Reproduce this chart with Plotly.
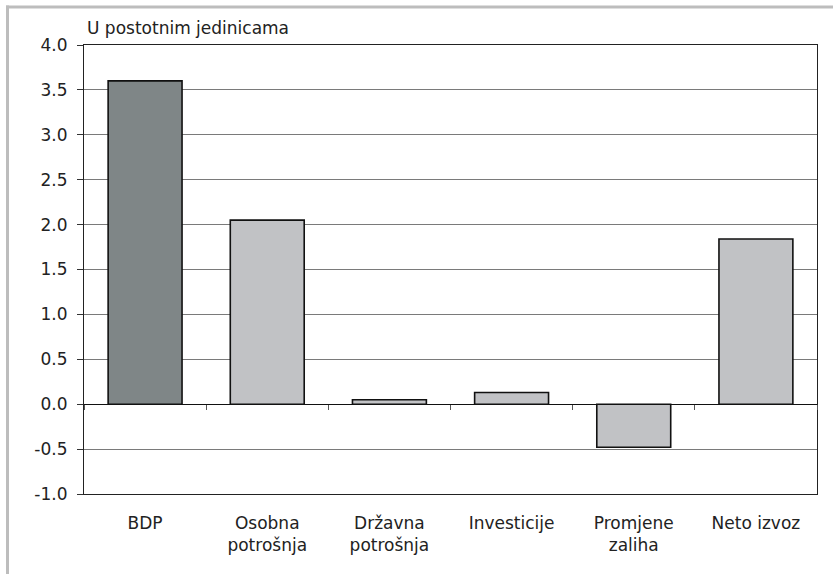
import plotly.graph_objects as go

categories = ["BDP", "Osobna<br>potrošnja", "Državna<br>potrošnja", "Investicije", "Promjene<br>zaliha", "Neto izvoz"]
values = [3.6, 2.05, 0.05, 0.13, -0.48, 1.84]
bar_colors = ["#7f8687", "#c1c2c5", "#c1c2c5", "#c1c2c5", "#c1c2c5", "#c1c2c5"]
y_ticks = [-1.0, -0.5, 0.0, 0.5, 1.0, 1.5, 2.0, 2.5, 3.0, 3.5, 4.0]
y_title = "U postotnim jedinicama"

FONT = "DejaVu Sans"
W, H = 833, 574
ML, MR, MT, MB = 84, 16, 45, 80
pw, ph = W - ML - MR, H - MT - MB

def px_x(x):
    return (x - ML) / pw

def px_y(y):
    return (H - MB - y) / ph

fig = go.Figure()
fig.add_trace(go.Bar(
    x=categories, y=values,
    marker=dict(color=bar_colors, line=dict(color="#111111", width=1.6)),
    width=0.605, hoverinfo="skip", showlegend=False,
))
# invisible trace to drive the category ticks on the zero line
fig.add_trace(go.Scatter(
    x=categories, y=values, xaxis="x2", mode="markers",
    marker=dict(opacity=0), hoverinfo="skip", showlegend=False,
))

fig.update_layout(
    width=W, height=H,
    margin=dict(l=ML, r=MR, t=MT, b=MB),
    paper_bgcolor="white", plot_bgcolor="white",
    font=dict(family=FONT, size=17, color="#222222"),
    xaxis=dict(
        type="category", categoryorder="array", categoryarray=categories,
        range=[-0.5, 5.5],
        showline=True, linecolor="#222222", linewidth=1.2, mirror=True,
        ticks="", showgrid=False, ticklabelstandoff=13,
        tickfont=dict(family=FONT, size=17, color="#222222"),
    ),
    xaxis2=dict(
        type="category", categoryorder="array", categoryarray=categories,
        overlaying="x", matches="x", anchor="free", position=0.2,
        ticks="outside", tickson="boundaries", ticklen=5, tickcolor="#555555", tickwidth=1,
        showticklabels=False, showline=False, showgrid=False,
    ),
    yaxis=dict(
        range=[-1.0, 4.0], tickvals=y_ticks,
        ticktext=[f"{v:.1f}" for v in y_ticks],
        showgrid=True, gridcolor="#7a7a7a", gridwidth=1,
        zeroline=True, zerolinecolor="#111111", zerolinewidth=1.2,
        showline=True, linecolor="#222222", linewidth=1.2, mirror=True,
        ticks="outside", ticklen=6, tickcolor="#333333",
        ticklabelstandoff=6,
        tickfont=dict(family=FONT, size=17, color="#222222"),
    ),
    shapes=[
        dict(type="line", xref="paper", yref="paper",
             x0=px_x(6), x1=px_x(W), y0=px_y(7), y1=px_y(7),
             line=dict(color="#bdbdbd", width=3), layer="above"),
        dict(type="rect", xref="paper", yref="paper",
             x0=px_x(6), x1=px_x(9), y0=px_y(5.5), y1=px_y(H),
             fillcolor="#bdbdbd", line=dict(width=0), layer="above"),
    ],
    annotations=[
        dict(text=y_title, xref="paper", yref="paper",
             x=px_x(85), y=px_y(28), xanchor="left", yanchor="middle",
             showarrow=False, font=dict(family=FONT, size=17, color="#222222")),
    ],
)

fig.write_html("out.html", config={"displayModeBar": False},
               post_script="document.body.style.margin='0';")
